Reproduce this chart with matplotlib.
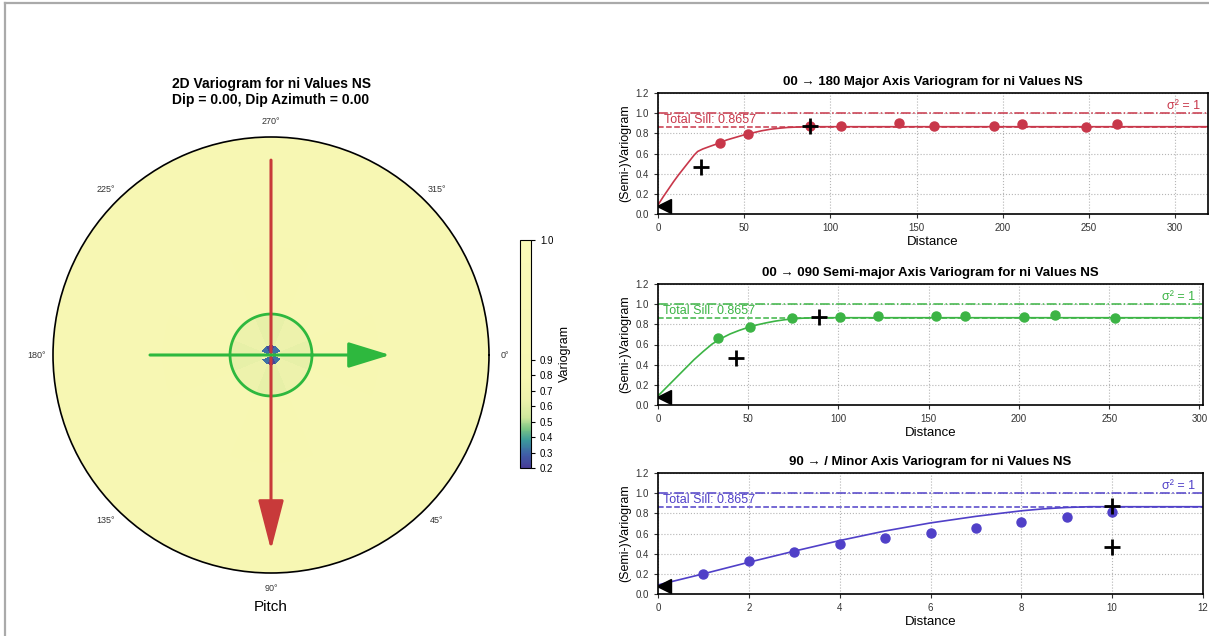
import numpy as np
import matplotlib
matplotlib.use("Agg")
import matplotlib.pyplot as plt
from matplotlib.colors import LinearSegmentedColormap, FuncNorm
from matplotlib.lines import Line2D

plt.rcParams['font.family'] = ['Liberation Sans', 'DejaVu Sans']

# ---- data ----
sill = 0.8657
nugget = 0.08

# major axis (00 -> 180)
major_lag = [36, 52, 88, 106, 140, 160, 195, 211, 248, 266]
major_gam = [0.70, 0.79, 0.87, 0.87, 0.90, 0.875, 0.87, 0.89, 0.865, 0.89]
major_model_x = [0, 3, 6, 9, 12, 15, 18, 21, 23, 26, 30, 35, 40, 45, 50, 55, 60, 65, 70, 75, 80, 85, 88, 320]
major_model_y = [0.09, 0.17, 0.245, 0.32, 0.39, 0.455, 0.52, 0.585, 0.62, 0.645, 0.67, 0.70, 0.735,
                 0.76, 0.785, 0.805, 0.825, 0.84, 0.85, 0.858, 0.862, 0.865, 0.8657, 0.8657]
major_cross_x = [25, 88]
major_cross_y = [0.47, 0.87]

# semi-major axis (00 -> 090)
semi_lag = [33, 51, 74, 101, 122, 154, 170, 203, 220, 253]
semi_gam = [0.66, 0.77, 0.86, 0.875, 0.88, 0.88, 0.88, 0.875, 0.895, 0.865]
semi_model_x = [0, 5, 10, 15, 20, 25, 30, 35, 40, 45, 50, 55, 60, 65, 70, 75, 80, 85, 90, 302]
semi_model_y = [0.09, 0.18, 0.27, 0.36, 0.45, 0.53, 0.605, 0.66, 0.705, 0.74, 0.77, 0.795, 0.815,
                0.832, 0.845, 0.855, 0.861, 0.864, 0.8657, 0.8657]
semi_cross_x = [43, 89]
semi_cross_y = [0.47, 0.87]

# minor axis (90 -> /)
minor_lag = [1, 2, 3, 4, 5, 6, 7, 8, 9, 10]
minor_gam = [0.20, 0.33, 0.42, 0.50, 0.555, 0.605, 0.655, 0.71, 0.76, 0.81]
minor_model_x = [0, 1, 2, 3, 4, 5, 6, 7, 7.5, 8, 8.5, 9, 9.5, 12]
minor_model_y = [0.09, 0.2, 0.315, 0.425, 0.53, 0.625, 0.705, 0.77, 0.798, 0.825, 0.845, 0.858, 0.8657, 0.8657]
minor_cross_x = [10, 10]
minor_cross_y = [0.87, 0.47]

# polar variogram map: sectors (deg) x rings (normalised radius)
sector_edges = [-22.5, 22.5, 67.5, 112.5, 157.5, 202.5, 247.5, 292.5, 337.5]
ring_edges = [0, 0.012, 0.045, 0.19, 0.5, 1.0]
map_values = [  # rows = rings, cols = sectors centred on 0,45,...,315
    [0.95, 0.95, 0.95, 0.95, 0.95, 0.95, 0.95, 0.95],
    [0.80, 0.32, 0.22, 0.32, 0.80, 0.32, 0.22, 0.32],
    [0.62, 0.64, 0.62, 0.64, 0.62, 0.64, 0.62, 0.64],
    [0.86, 0.87, 0.86, 0.87, 0.86, 0.87, 0.86, 0.87],
    [0.87, 0.87, 0.87, 0.87, 0.87, 0.87, 0.87, 0.87],
]
cbar_ticks = [0.2, 0.3, 0.4, 0.5, 0.6, 0.7, 0.8, 0.9, 1.0]

# arrows / ellipse in normalised radius
major_len = 0.894
semi_len = [0.555, 0.546]
minor_circle = 0.188

red = '#c8374a'
green = '#3cb445'
blue = '#5040c8'

fig = plt.figure(figsize=(12.09, 6.36), dpi=100)

# grey frame of the screenshot
fig.add_artist(Line2D([5 / 1209, 1], [1 - 3 / 636, 1 - 3 / 636], color='#aaaaaa', lw=1.6))
fig.add_artist(Line2D([5 / 1209, 5 / 1209], [0, 1 - 3 / 636], color='#aaaaaa', lw=1.6))

# ---- polar map ----
cmap = LinearSegmentedColormap.from_list('vario', [
    (0.0, '#463c96'), (0.06, '#3f5fa8'), (0.12, '#3b9a9c'), (0.17, '#7cc684'),
    (0.22, '#cfe79c'), (0.30, '#eef2ac'), (0.40, '#f7f7b2'), (1.0, '#fafab8')])
norm = FuncNorm((lambda v: np.interp(v, [0.2, 0.9, 1.0], [0, 0.474, 1.0]),
                 lambda p: np.interp(p, [0, 0.474, 1.0], [0.2, 0.9, 1.0])), vmin=0.2, vmax=1.0)

ax = fig.add_axes([53 / 1209, 1 - 573 / 636, 436 / 1209, 436 / 636], projection='polar')
ax.set_theta_zero_location('E')
ax.set_theta_direction(-1)

# split every sector into thin slices so the cells follow the circle
sub = 15
theta_edges = np.concatenate([np.linspace(sector_edges[i], sector_edges[i + 1], sub + 1)[:-1]
                              for i in range(len(sector_edges) - 1)] + [[sector_edges[-1]]])
cells = np.repeat(np.array(map_values), sub, axis=1)
mesh = ax.pcolormesh(np.deg2rad(theta_edges), ring_edges, cells,
                     cmap=cmap, norm=norm, shading='flat')
ax.set_ylim(0, 1)
ax.set_yticks([])
ax.set_xticks(np.deg2rad([0, 45, 90, 135, 180, 225, 270, 315]))
ax.set_xticklabels(['0°', '45°', '90°', '135°', '180°', '225°', '270°', '315°'])
ax.tick_params(axis='x', labelsize=6.5, pad=1, colors='#333333')
ax.grid(False)
ax.spines['polar'].set_linewidth(1.2)

ax.annotate('', xy=(np.pi / 2, major_len), xytext=(3 * np.pi / 2, major_len),
            arrowprops=dict(arrowstyle='-|>,head_length=3.1,head_width=0.8', mutation_scale=10,
                            color='#c83a3a', lw=2.2, shrinkA=0, shrinkB=0))
ax.annotate('', xy=(0, semi_len[1]), xytext=(np.pi, semi_len[0]),
            arrowprops=dict(arrowstyle='-|>,head_length=2.6,head_width=0.8', mutation_scale=10,
                            color='#2eb83e', lw=2.2, shrinkA=0, shrinkB=0))
circ_t = np.linspace(0, 2 * np.pi, 200)
ax.plot(circ_t, np.full(circ_t.shape, minor_circle), color='#2eb83e', lw=2)

fig.text(271 / 1209, 1 - 92 / 636, '2D Variogram for ni Values NS\nDip = 0.00, Dip Azimuth = 0.00',
         ha='center', va='center', fontsize=10, fontweight='bold', linespacing=1.1)
fig.text(271 / 1209, 1 - 607 / 636, 'Pitch', ha='center', va='center', fontsize=11)

cax = fig.add_axes([520 / 1209, 1 - 468 / 636, 11 / 1209, 228 / 636])
cb = fig.colorbar(mesh, cax=cax, ticks=cbar_ticks)
cb.ax.tick_params(labelsize=7, length=3)
cb.set_label('Variogram', fontsize=9)
cb.outline.set_linewidth(0.8)

# ---- directional variograms ----
panels = [
    ('00 → 180 Major Axis Variogram for ni Values NS', red, major_lag, major_gam,
     major_model_x, major_model_y, major_cross_x, major_cross_y, 3.5, (0, 319), range(0, 301, 50),
     [658, 93, 1208, 214]),
    ('00 → 090 Semi-major Axis Variogram for ni Values NS', green, semi_lag, semi_gam,
     semi_model_x, semi_model_y, semi_cross_x, semi_cross_y, 3.5, (0, 302), range(0, 301, 50),
     [658, 284, 1203, 405]),
    ('90 → / Minor Axis Variogram for ni Values NS', blue, minor_lag, minor_gam,
     minor_model_x, minor_model_y, minor_cross_x, minor_cross_y, 0.13, (0, 12), range(0, 13, 2),
     [658, 473, 1203, 594]),
]

for title, c, lag, gam, mx, my, cx, cy, tri_x, xlim, xt, box in panels:
    x0, y0, x1, y1 = box
    a = fig.add_axes([x0 / 1209, 1 - y1 / 636, (x1 - x0) / 1209, (y1 - y0) / 636])
    a.grid(True, ls=':', color='#b5b5b5', lw=0.8)
    a.set_axisbelow(True)
    a.axhline(1.0, color=c, ls='-.', lw=1.1)
    a.axhline(sill, color=c, ls='--', lw=1.1)
    a.plot(mx, my, color=c, lw=1.2)
    a.plot(lag, gam, 'o', color=c, ms=6.5, ls='none')
    a.plot(cx, cy, '+', color='black', ms=11, mew=2, ls='none')
    a.plot([tri_x], [nugget], '<', color='black', ms=10)
    a.text(0.01, sill + 0.01, 'Total Sill: 0.8657', color=c, fontsize=9, va='bottom',
           transform=a.get_yaxis_transform())
    a.text(0.985, 1.01, 'σ² = 1', color=c, fontsize=9, va='bottom', ha='right',
           transform=a.get_yaxis_transform())
    a.set_xlim(*xlim)
    a.set_ylim(0, 1.2)
    a.set_xticks(list(xt))
    a.set_yticks([0.0, 0.2, 0.4, 0.6, 0.8, 1.0, 1.2])
    a.set_yticklabels(['0.0', '0.2', '0.4', '0.6', '0.8', '1.0', '1.2'])
    a.tick_params(labelsize=7, length=3, colors='#333333')
    for s in a.spines.values():
        s.set_linewidth(1.2)
    a.set_title(title, fontsize=9.5, fontweight='bold', pad=6)
    a.set_xlabel('Distance', fontsize=9.5, labelpad=2)
    a.set_ylabel('(Semi-)Variogram', fontsize=9, labelpad=3)

fig.savefig('out.png', dpi=100, facecolor='white')
